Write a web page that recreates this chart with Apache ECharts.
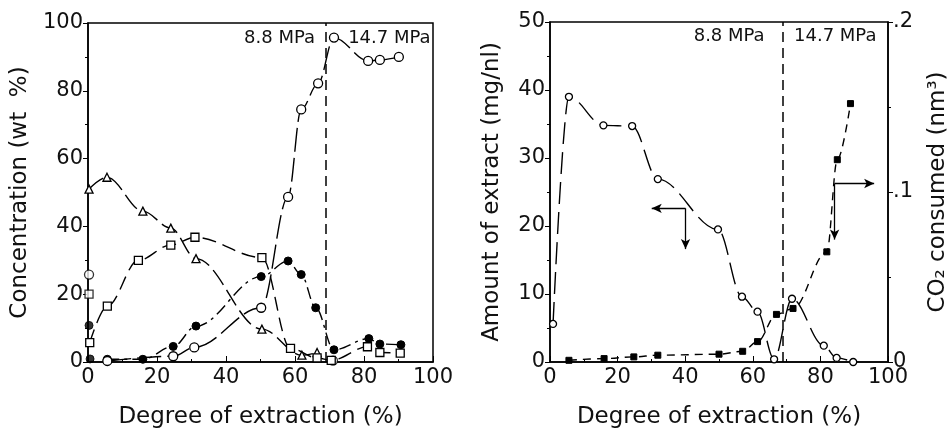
<!DOCTYPE html>
<html>
<head>
<meta charset="utf-8">
<script src="https://cdn.jsdelivr.net/npm/echarts@6/dist/echarts.min.js"></script>
<style>
html,body{margin:0;padding:0;background:#fff;}
#chart{width:951px;height:434px;}
</style>
</head>
<body>
<div id="chart"></div>
<script>
// left panel: concentration (wt %) vs degree of extraction (%)
const concOpenCircle = [[5.6,0.3],[24.7,1.7],[30.8,4.3],[50.2,16],[58,48.7],[61.8,74.5],[66.7,82.2],[71.3,95.7],[81.2,88.8],[84.6,89.1],[90.1,90]]
const concFilledCircle = [[5.6,0.8],[15.9,0.8],[24.7,4.6],[31.3,10.6],[50.2,25.2],[58,29.8],[61.8,25.8],[66,16],[71.3,3.6],[81.4,6.9],[84.6,5.3],[90.7,5.1]]
const concSquare = [[0.5,5.7],[5.6,16.5],[14.6,30],[24,34.5],[31,36.8],[50.4,30.8],[58.7,4],[66.4,1.2],[70.5,0.5],[81,4.5],[84.6,2.8],[90.5,2.6]]
const concTriangle = [[0.3,51],[5.5,54.5],[15.9,44.5],[24,39.5],[31.3,30.5],[50.4,9.7],[62,2],[66.4,2.8]]
// points not joined by a curve
const looseOpenCircle = [[0.3,25.8],[71,0.4]]
const looseFilledCircle = [[0.3,10.8],[0.6,0.9]]
const looseSquare = [[0.3,20]]

// right panel: amount of extract (mg/nl) and CO2 consumed (nm3)
const amountExtract = [[0.9,5.6],[5.6,39],[15.8,34.8],[24.3,34.7],[31.9,26.9],[49.7,19.5],[56.8,9.6],[61.4,7.4],[66.3,0.4],[71.6,9.3],[81,2.4],[84.8,0.6],[89.7,0]]
const co2Consumed = [[5.6,0.001],[16,0.002],[24.8,0.003],[31.9,0.004],[50,0.0046],[57,0.0063],[61.4,0.012],[67,0.028],[71.9,0.0315],[81.9,0.0648],[85,0.119],[88.9,0.152]]

// pressure change and arrows
const pressureSwitch = 69
const leftArrow = [[40.1,22.6],[30.1,22.6],[40.1,16.6]]
const rightArrow = [[84.2,0.105],[95.9,0.105],[84.2,0.072]]

const FONT = 'DejaVu Sans'
const ink = '#111'

const chart = echarts.init(document.getElementById('chart'))

const xAxisBase = (gridIndex) => ({
  type: 'value', gridIndex, min: 0, max: 100, interval: 20,
  name: 'Degree of extraction (%)', nameLocation: 'middle', nameGap: 44,
  nameTextStyle: {fontFamily: FONT, fontSize: 23, color: ink},
  axisLine: {lineStyle: {color: '#000', width: 1.5}},
  axisTick: {inside: true, length: 6, lineStyle: {color: '#000'}},
  minorTick: {show: true, splitNumber: 2, length: 3, lineStyle: {color: '#000'}},
  splitLine: {show: false},
  axisLabel: {fontFamily: FONT, fontSize: 21, color: ink, margin: 5}
})

const yAxisBase = (gridIndex, min, max, interval, name, nameGap, position) => ({
  type: 'value', gridIndex, min, max, interval, position,
  name, nameLocation: 'middle', nameGap,
  nameTextStyle: {fontFamily: FONT, fontSize: 23, color: ink},
  axisLine: {show: true, lineStyle: {color: '#000', width: 1.5}},
  axisTick: {show: true, inside: false, length: 5, lineStyle: {color: '#000'}},
  minorTick: {show: true, splitNumber: 2, length: 3, lineStyle: {color: '#000'}},
  splitLine: {show: false},
  axisLabel: {fontFamily: FONT, fontSize: 21, color: ink, margin: 5}
})

const openStyle = {color: '#fff', borderColor: '#000', borderWidth: 1.3}
const fillStyle = {color: '#000', borderColor: '#000', borderWidth: 1}

const curve = (data, symbol, symbolSize, itemStyle, dash, xi, yi, extra) => Object.assign({
  type: 'line', data, xAxisIndex: xi, yAxisIndex: yi,
  symbol, symbolSize, itemStyle,
  smooth: 0.35, smoothMonotone: 'x',
  lineStyle: {color: '#000', width: 1.4, type: dash},
  silent: true
}, extra || {})

const dots = (data, symbol, symbolSize, itemStyle, xi, yi) => ({
  type: 'scatter', data, xAxisIndex: xi, yAxisIndex: yi,
  symbol, symbolSize, itemStyle, silent: true
})

const pressureLine = {
  silent: true, symbol: 'none',
  lineStyle: {color: '#000', width: 1.5, type: [10, 6]},
  label: {show: false},
  data: [{xAxis: pressureSwitch}]
}

const pressureLabels = (y, leftX, rightX) => ({
  silent: true, symbol: 'circle', symbolSize: 0,
  label: {show: true, fontFamily: FONT, fontSize: 18, color: ink, verticalAlign: 'middle'},
  data: [
    {coord: [leftX, y], label: {formatter: '8.8 MPa', align: 'right', position: [0, 0]}},
    {coord: [rightX, y], label: {formatter: '14.7 MPa', align: 'left', position: [0, 0]}}
  ]
})

const arrowLines = (pts) => ({
  silent: true, symbol: ['none', 'arrow'], symbolSize: [7, 10],
  lineStyle: {color: '#000', width: 1.3, type: 'solid'},
  label: {show: false},
  data: [
    [{coord: pts[0]}, {coord: pts[1]}],
    [{coord: pts[0]}, {coord: pts[2]}]
  ]
})

const option = {
  animation: false,
  backgroundColor: '#fff',
  grid: [
    {left: 88, top: 23, width: 345, height: 349, show: true, borderColor: '#000', borderWidth: 1.5, backgroundColor: 'transparent'},
    {left: 550, top: 22, width: 342, height: 349, show: true, borderColor: '#000', borderWidth: 1.5, backgroundColor: 'transparent'}
  ],
  xAxis: [xAxisBase(0), xAxisBase(1)],
  yAxis: [
    yAxisBase(0, 0, 100, 20, 'Concentration (wt  %)', 56, 'left'),
    yAxisBase(1, 0, 50, 10, 'Amount of extract (mg/nl)', 46, 'left'),
    Object.assign(yAxisBase(1, 0, 0.2, 0.1, 'CO\u2082 consumed (nm\u00b3)', 39, 'right'), {
      axisLabel: {fontFamily: FONT, fontSize: 21, color: ink, margin: 5,
        formatter: v => v === 0 ? '0' : String(v).replace(/^0\./, '.')}
    })
  ],
  series: [
    curve(concTriangle, 'triangle', 8, openStyle, [18, 6], 0, 0, {markLine: pressureLine, markPoint: pressureLabels(95.4, 65.8, 75.4)}),
    curve(concSquare, 'rect', 8, openStyle, [14, 7], 0, 0),
    curve(concFilledCircle, 'circle', 8, fillStyle, [12, 5, 3, 5], 0, 0),
    curve(concOpenCircle, 'circle', 9, openStyle, [24, 6], 0, 0),
    dots(looseOpenCircle, 'circle', 9, openStyle, 0, 0),
    dots(looseFilledCircle, 'circle', 8, fillStyle, 0, 0),
    dots(looseSquare, 'rect', 8, openStyle, 0, 0),
    curve(amountExtract, 'circle', 7, openStyle, [22, 8], 1, 1, {markLine: pressureLine, markPoint: pressureLabels(47.9, 63.5, 72.2)}),
    curve(co2Consumed, 'rect', 6, fillStyle, [8, 6], 1, 2),
    {type: 'line', data: [], xAxisIndex: 1, yAxisIndex: 1, markLine: arrowLines(leftArrow)},
    {type: 'line', data: [], xAxisIndex: 1, yAxisIndex: 2, markLine: arrowLines(rightArrow)}
  ]
}

chart.setOption(option)
</script>
</body>
</html>
